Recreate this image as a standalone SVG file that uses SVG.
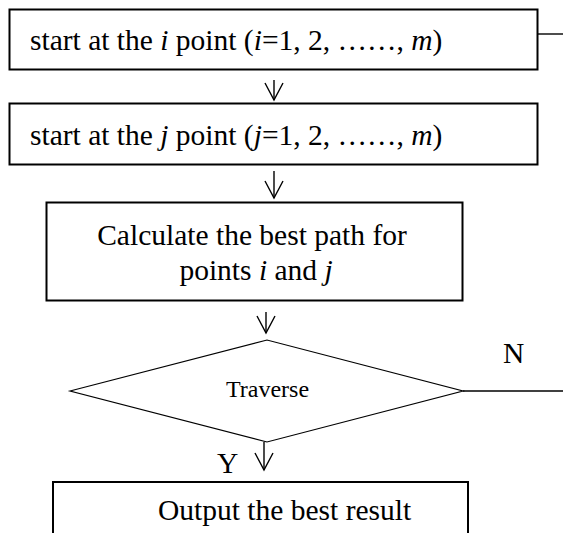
<svg xmlns="http://www.w3.org/2000/svg" width="563" height="533" viewBox="0 0 563 533">
<style>
.box{fill:#fff;stroke:#000;stroke-width:2}
.dia{fill:#fff;stroke:#000;stroke-width:1.2}
.t{font-family:"Liberation Serif","Times New Roman",serif;font-size:29.5px;fill:#000}
.s{font-size:24px}
.c{text-anchor:middle}
.it{font-style:italic}
.ln{fill:none;stroke:#000;stroke-width:1.4}
</style>
<defs>
<marker id="v" viewBox="-1 -10 20 20" refX="17" refY="0" markerWidth="20" markerHeight="20" markerUnits="userSpaceOnUse" orient="auto">
<path d="M0,-9 L17,0 L0,9" fill="none" stroke="#000" stroke-width="1.4"/>
</marker>
</defs>
<g id="connectors">
<line class="ln" x1="537.5" y1="34" x2="563" y2="34" stroke="#444"/>
<line class="ln" x1="274" y1="80" x2="274" y2="100" marker-end="url(#v)"/>
<line class="ln" x1="274" y1="171" x2="274" y2="198" marker-end="url(#v)"/>
<line class="ln" x1="266" y1="312" x2="266" y2="333" marker-end="url(#v)"/>
<line class="ln" x1="264" y1="442" x2="264" y2="470" marker-end="url(#v)"/>
<line class="ln" x1="463" y1="391" x2="563" y2="391"/>
<text class="t" x="503" y="363" font-size="28">N</text>
<text class="t" x="217" y="473" font-size="28">Y</text>
</g>
<g id="node1">
<rect class="box" x="9.5" y="9.5" width="528" height="60"/>
<text class="t" x="30" y="50">start at the <tspan class="it">i</tspan> point (<tspan class="it">i</tspan>=1, 2, ……, <tspan class="it">m</tspan>)</text>
</g>
<g id="node2">
<rect class="box" x="9.5" y="103.5" width="528" height="61"/>
<text class="t" x="30" y="145">start at the <tspan class="it">j</tspan> point (<tspan class="it">j</tspan>=1, 2, ……, <tspan class="it">m</tspan>)</text>
</g>
<g id="node3">
<rect class="box" x="46.5" y="202.5" width="416" height="98"/>
<text class="t c" x="252" y="245">Calculate the best path for</text>
<text class="t c" x="256" y="280">points <tspan class="it">i</tspan> and <tspan class="it">j</tspan></text>
</g>
<g id="node4">
<polygon class="dia" points="70,391 267,340 463,391 267,442"/>
<text class="t s c" x="267.5" y="397">Traverse</text>
</g>
<g id="node5">
<rect class="box" x="53" y="482" width="415" height="60"/>
<text class="t" x="158" y="520">Output the best result</text>
</g>
</svg>
